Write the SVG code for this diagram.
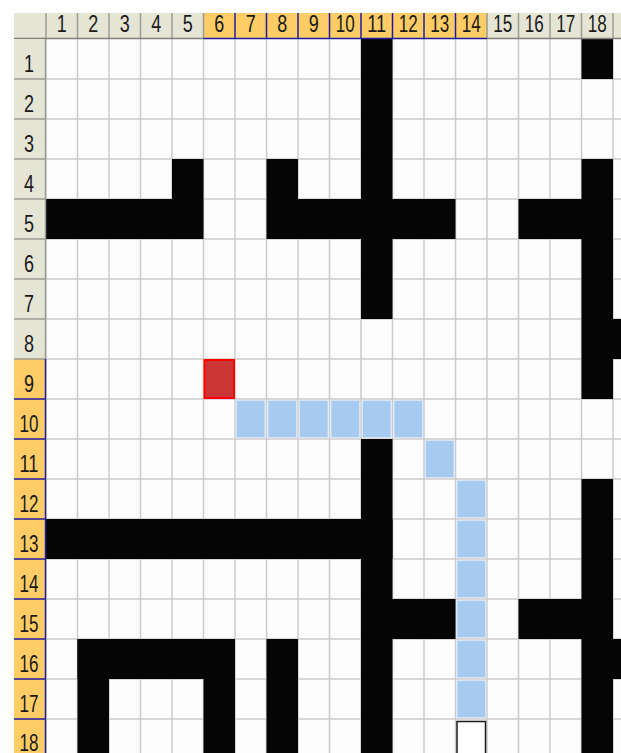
<svg xmlns="http://www.w3.org/2000/svg" width="621" height="753" viewBox="0 0 621 753">
<style>
.grid{stroke:#CBCBCB;stroke-width:1.5;fill:none}
.hsep{stroke:#9C9C94;stroke-width:1.5;fill:none}
.bsep{stroke:#1E1E9E;stroke-width:1.5;fill:none}
.wall{fill:#050505}
.path{fill:#A6CAF0;stroke:#D6E5F7;stroke-width:1}
.hdr{font-family:"Liberation Sans",Arial,sans-serif;font-size:23px;fill:#1A1A1A;text-anchor:middle}
</style>
<rect x="0" y="0" width="621" height="753" fill="#FFFFFF"/>
<g id="sheet">
<rect x="46" y="39" width="575" height="714" fill="#FDFDFD"/>
<path class="grid" d="M46 39V753M77.5 39V753M109 39V753M140.5 39V753M172 39V753M203.5 39V753M235 39V753M266.5 39V753M298 39V753M329.5 39V753M361 39V753M392.5 39V753M424 39V753M455.5 39V753M487 39V753M518.5 39V753M550 39V753M581.5 39V753M613 39V753"/>
<path class="grid" d="M46 79H621M46 119H621M46 159H621M46 199H621M46 239H621M46 279H621M46 319H621M46 359H621M46 399H621M46 439H621M46 479H621M46 519H621M46 559H621M46 599H621M46 639H621M46 679H621M46 719H621"/>
</g>
<g id="walls">
<rect class="wall" x="361" y="39" width="31.5" height="280"/>
<rect class="wall" x="581.5" y="39" width="31.5" height="40"/>
<rect class="wall" x="172" y="159" width="31.5" height="40"/>
<rect class="wall" x="46" y="199" width="157.5" height="40"/>
<rect class="wall" x="266.5" y="159" width="31.5" height="40"/>
<rect class="wall" x="266.5" y="199" width="189" height="40"/>
<rect class="wall" x="581.5" y="159" width="31.5" height="240"/>
<rect class="wall" x="518.5" y="199" width="94.5" height="40"/>
<rect class="wall" x="613" y="319" width="10" height="40"/>
<rect class="wall" x="361" y="439" width="31.5" height="314"/>
<rect class="wall" x="46" y="519" width="346.5" height="40"/>
<rect class="wall" x="361" y="599" width="94.5" height="40"/>
<rect class="wall" x="518.5" y="599" width="94.5" height="40"/>
<rect class="wall" x="581.5" y="479" width="31.5" height="274"/>
<rect class="wall" x="613" y="639" width="10" height="40"/>
<rect class="wall" x="77.5" y="639" width="157.5" height="40"/>
<rect class="wall" x="77.5" y="639" width="31.5" height="114"/>
<rect class="wall" x="203.5" y="639" width="31.5" height="114"/>
<rect class="wall" x="266.5" y="639" width="31.5" height="114"/>
</g>
<g id="start">
<rect x="204.5" y="360" width="29.5" height="38" fill="#CD3434" stroke="#FF0000" stroke-width="2"/>
</g>
<g id="route">
<rect class="path" x="236.5" y="400.5" width="28.5" height="37"/>
<rect class="path" x="268" y="400.5" width="28.5" height="37"/>
<rect class="path" x="299.5" y="400.5" width="28.5" height="37"/>
<rect class="path" x="331" y="400.5" width="28.5" height="37"/>
<rect class="path" x="362.5" y="400.5" width="28.5" height="37"/>
<rect class="path" x="394" y="400.5" width="28.5" height="37"/>
<rect class="path" x="425.5" y="440.5" width="28.5" height="37"/>
<rect class="path" x="457" y="480.5" width="28.5" height="37"/>
<rect class="path" x="457" y="520.5" width="28.5" height="37"/>
<rect class="path" x="457" y="560.5" width="28.5" height="37"/>
<rect class="path" x="457" y="600.5" width="28.5" height="37"/>
<rect class="path" x="457" y="640.5" width="28.5" height="37"/>
<rect class="path" x="457" y="680.5" width="28.5" height="37"/>
</g>
<g id="cursor">
<rect x="457" y="721.5" width="28.5" height="40" fill="#FFFFFF" stroke="#1A1A1A" stroke-width="1.5"/>
</g>
<g id="column-header">
<rect x="14" y="13" width="607" height="26" fill="#E5E5D5"/>
<rect x="203.5" y="13" width="283.5" height="26" fill="#FFCC66"/>
<path class="hsep" d="M46 13V39M77.5 13V39M109 13V39M140.5 13V39M172 13V39M203.5 13V39M487 13V39M518.5 13V39M550 13V39M581.5 13V39M613 13V39"/>
<path class="bsep" d="M235 13V39M266.5 13V39M298 13V39M329.5 13V39M361 13V39M392.5 13V39M424 13V39M455.5 13V39"/>
<path stroke="#808078" stroke-width="1.5" d="M14 38.5H203.5M487 38.5H621"/>
<path class="bsep" d="M203.5 38.5H487"/>
<text class="hdr" x="61.75" y="32" textLength="10" lengthAdjust="spacingAndGlyphs">1</text>
<text class="hdr" x="93.25" y="32" textLength="10" lengthAdjust="spacingAndGlyphs">2</text>
<text class="hdr" x="124.75" y="32" textLength="10" lengthAdjust="spacingAndGlyphs">3</text>
<text class="hdr" x="156.25" y="32" textLength="10" lengthAdjust="spacingAndGlyphs">4</text>
<text class="hdr" x="187.75" y="32" textLength="10" lengthAdjust="spacingAndGlyphs">5</text>
<text class="hdr" x="219.25" y="32" textLength="10" lengthAdjust="spacingAndGlyphs">6</text>
<text class="hdr" x="250.75" y="32" textLength="10" lengthAdjust="spacingAndGlyphs">7</text>
<text class="hdr" x="282.25" y="32" textLength="10" lengthAdjust="spacingAndGlyphs">8</text>
<text class="hdr" x="313.75" y="32" textLength="10" lengthAdjust="spacingAndGlyphs">9</text>
<text class="hdr" x="345.25" y="32" textLength="19" lengthAdjust="spacingAndGlyphs">10</text>
<text class="hdr" x="376.75" y="32" textLength="19" lengthAdjust="spacingAndGlyphs">11</text>
<text class="hdr" x="408.25" y="32" textLength="19" lengthAdjust="spacingAndGlyphs">12</text>
<text class="hdr" x="439.75" y="32" textLength="19" lengthAdjust="spacingAndGlyphs">13</text>
<text class="hdr" x="471.25" y="32" textLength="19" lengthAdjust="spacingAndGlyphs">14</text>
<text class="hdr" x="502.75" y="32" textLength="19" lengthAdjust="spacingAndGlyphs">15</text>
<text class="hdr" x="534.25" y="32" textLength="19" lengthAdjust="spacingAndGlyphs">16</text>
<text class="hdr" x="565.75" y="32" textLength="19" lengthAdjust="spacingAndGlyphs">17</text>
<text class="hdr" x="597.25" y="32" textLength="19" lengthAdjust="spacingAndGlyphs">18</text>
</g>
<g id="row-header">
<rect x="14" y="39" width="32" height="714" fill="#E5E5D5"/>
<rect x="14" y="359" width="32" height="394" fill="#FFCC66"/>
<path class="hsep" d="M14 79H46M14 119H46M14 159H46M14 199H46M14 239H46M14 279H46M14 319H46M14 359H46"/>
<path class="bsep" d="M14 399H46M14 439H46M14 479H46M14 519H46M14 559H46M14 599H46M14 639H46M14 679H46M14 719H46M45.5 359V753"/>
<path stroke="#9C9C94" stroke-width="1.5" d="M45.5 39V359"/>
<text class="hdr" x="29" y="72" textLength="10" lengthAdjust="spacingAndGlyphs">1</text>
<text class="hdr" x="29" y="112" textLength="10" lengthAdjust="spacingAndGlyphs">2</text>
<text class="hdr" x="29" y="152" textLength="10" lengthAdjust="spacingAndGlyphs">3</text>
<text class="hdr" x="29" y="192" textLength="10" lengthAdjust="spacingAndGlyphs">4</text>
<text class="hdr" x="29" y="232" textLength="10" lengthAdjust="spacingAndGlyphs">5</text>
<text class="hdr" x="29" y="272" textLength="10" lengthAdjust="spacingAndGlyphs">6</text>
<text class="hdr" x="29" y="312" textLength="10" lengthAdjust="spacingAndGlyphs">7</text>
<text class="hdr" x="29" y="352" textLength="10" lengthAdjust="spacingAndGlyphs">8</text>
<text class="hdr" x="29" y="392" textLength="10" lengthAdjust="spacingAndGlyphs">9</text>
<text class="hdr" x="29" y="432" textLength="19" lengthAdjust="spacingAndGlyphs">10</text>
<text class="hdr" x="29" y="472" textLength="19" lengthAdjust="spacingAndGlyphs">11</text>
<text class="hdr" x="29" y="512" textLength="19" lengthAdjust="spacingAndGlyphs">12</text>
<text class="hdr" x="29" y="552" textLength="19" lengthAdjust="spacingAndGlyphs">13</text>
<text class="hdr" x="29" y="592" textLength="19" lengthAdjust="spacingAndGlyphs">14</text>
<text class="hdr" x="29" y="632" textLength="19" lengthAdjust="spacingAndGlyphs">15</text>
<text class="hdr" x="29" y="672" textLength="19" lengthAdjust="spacingAndGlyphs">16</text>
<text class="hdr" x="29" y="712" textLength="19" lengthAdjust="spacingAndGlyphs">17</text>
<text class="hdr" x="29" y="751" textLength="19" lengthAdjust="spacingAndGlyphs">18</text>
</g>
</svg>
